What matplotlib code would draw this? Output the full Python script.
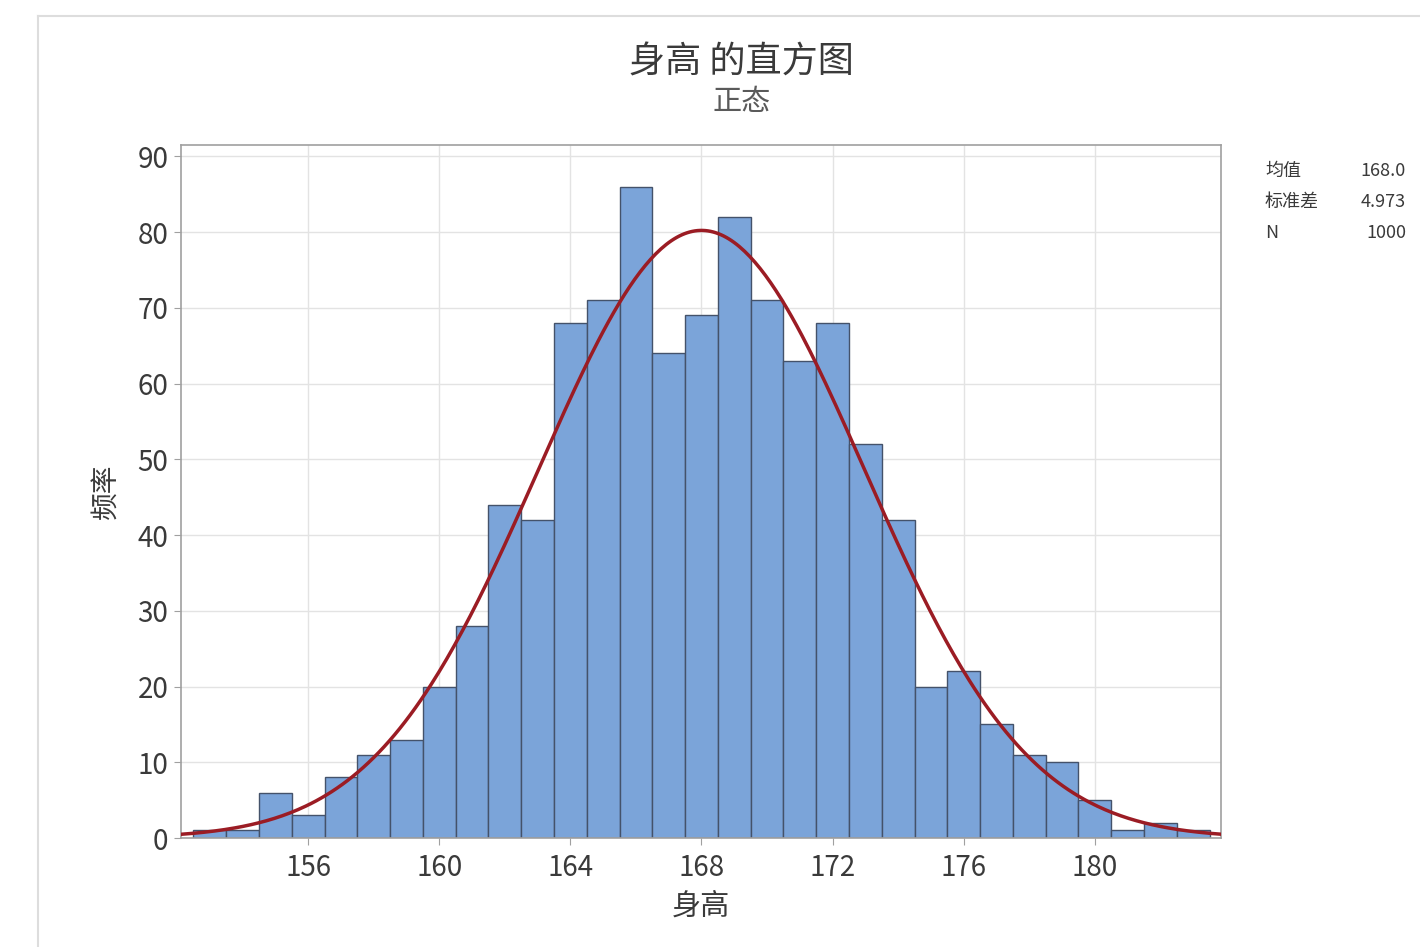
import numpy as np
import matplotlib.pyplot as plt
from matplotlib.lines import Line2D

plt.rcParams['font.family'] = ['Noto Sans CJK SC', 'DejaVu Sans']

# bin centres (width 1) and counts
centers = [153, 154, 155, 156, 157, 158, 159, 160, 161, 162, 163, 164, 165, 166,
           167, 168, 169, 170, 171, 172, 173, 174, 175, 176, 177, 178, 179, 180,
           181, 182, 183]
counts = [1, 1, 6, 3, 8, 11, 13, 20, 28, 44, 42, 68, 71, 86,
          64, 69, 82, 71, 63, 68, 52, 42, 20, 22, 15, 11, 10, 5,
          1, 2, 1]
mean = 168.0
std = 4.973
n = 1000
xticks = [156, 160, 164, 168, 172, 176, 180]
yticks = [0, 10, 20, 30, 40, 50, 60, 70, 80, 90]

fig = plt.figure(figsize=(14.2, 9.47), dpi=100)
ax = fig.add_axes([181/1420, 1 - 838/947, (1221-181)/1420, (838-145)/947])

ax.bar(centers, counts, width=1.0, color='#7ba4d9', edgecolor='#44526a', linewidth=1.0, zorder=2)

xs = np.linspace(152.1, 183.9, 400)
ys = n * 1.0 / (std * np.sqrt(2 * np.pi)) * np.exp(-(xs - mean) ** 2 / (2 * std ** 2))
ax.plot(xs, ys, color='#9b1c24', lw=2.5, zorder=3)

ax.set_xlim(152.12, 183.85)
ax.set_ylim(0, 91.5)
ax.set_xticks(xticks)
ax.set_yticks(yticks)
ax.grid(True, color='#e3e3e3', lw=1, zorder=0)
ax.set_axisbelow(True)
for s in ax.spines.values():
    s.set_color('#a0a0a0')
    s.set_linewidth(1.2)
ax.tick_params(colors='#a0a0a0', labelcolor='#3a3a3a', labelsize=20, length=5)
ax.tick_params(axis='x', pad=6)
ax.tick_params(axis='y', pad=4)

ax.set_xlabel('身高', fontsize=21, color='#3a3a3a', labelpad=6)
ax.set_ylabel('频率', fontsize=20, color='#3a3a3a', labelpad=12)

fig.text(0.522, 1 - 63/947, '身高 的直方图', fontsize=26, color='#3a3a3a', ha='center', va='center')
fig.text(0.522, 1 - 102/947, '正态', fontsize=21, color='#5a5a5a', ha='center', va='center')

# stats box
rows = [('均值', '168.0'), ('标准差', '4.973'), ('N', '1000')]
for i, (k, v) in enumerate(rows):
    y = 1 - (171 + i * 31) / 947
    fig.text(1265/1420, y, k, fontsize=13, color='#3a3a3a', ha='left', va='center')
    fig.text(1406/1420, y, v, fontsize=13, color='#3a3a3a', ha='right', va='center')

# outer panel frame
fig.add_artist(Line2D([38/1420, 38/1420], [0, 1 - 16/947], transform=fig.transFigure, color='#dddddd', lw=1.5))
fig.add_artist(Line2D([38/1420, 1], [1 - 16/947, 1 - 16/947], transform=fig.transFigure, color='#dddddd', lw=1.5))

fig.savefig('out.png', dpi=100)
